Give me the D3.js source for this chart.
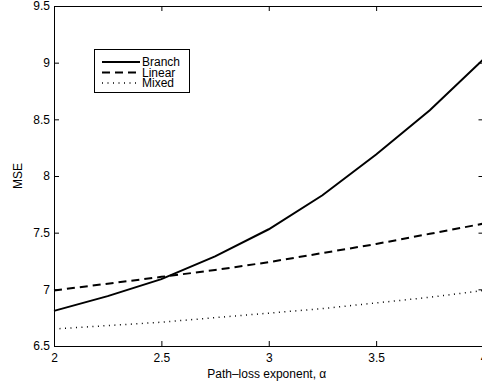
<!DOCTYPE html>
<html>
<head>
<meta charset="utf-8">
<script src="https://cdn.jsdelivr.net/npm/d3@7"></script>
<style>
  body { margin: 0; background: #fff; }
  svg { display: block; }
  text { font-family: "Liberation Sans", Arial, Helvetica, sans-serif; font-size: 12px; fill: #000; }
</style>
</head>
<body>
<svg id="vis" width="482" height="386"></svg>
<script>
// path-loss exponent values
const alpha = [2, 2.25, 2.5, 2.75, 3, 3.25, 3.5, 3.75, 4];
const branch = [6.81, 6.94, 7.09, 7.29, 7.53, 7.83, 8.19, 8.58, 9.03];
const linear = [6.99, 7.05, 7.11, 7.17, 7.24, 7.32, 7.40, 7.49, 7.58];
const mixed = [6.65, 6.68, 6.71, 6.75, 6.79, 6.83, 6.88, 6.93, 6.99];
const xTicks = [2, 2.5, 3, 3.5, 4];
const yTicks = [6.5, 7, 7.5, 8, 8.5, 9, 9.5];

const series = [
  { name: 'Branch', values: branch, dash: null, width: 2 },
  { name: 'Linear', values: linear, dash: '8,5', width: 2 },
  { name: 'Mixed', values: mixed, dash: '1,4.5', width: 1.5 }
];

const vis = d3.select('#vis');
const plotLeft = 54, plotRight = 483.5, plotTop = 6, plotBottom = 346;

const x = d3.scaleLinear().domain([2, 4]).range([plotLeft, plotRight]);
const y = d3.scaleLinear().domain([6.5, 9.5]).range([plotBottom, plotTop]);

// data lines
const line = d3.line()
  .x((d, i) => x(alpha[i]))
  .y(d => y(d));

vis.selectAll('path.series')
  .data(series)
  .enter()
    .append('path')
    .classed('series', true)
    .attr('d', d => line(d.values))
    .attr('fill', 'none')
    .attr('stroke', '#000')
    .attr('stroke-width', d => d.width)
    .attr('stroke-dasharray', d => d.dash);

// axes, ticks pointing inward (matlab style)
const tickLen = 5;
vis.append('g')
  .attr('transform', 'translate(0,' + plotBottom + ')')
  .call(d3.axisBottom(x).tickValues(xTicks).tickSize(-tickLen).tickPadding(7).tickFormat(d3.format('')));
vis.append('g')
  .attr('transform', 'translate(0,' + plotTop + ')')
  .call(d3.axisTop(x).tickValues(xTicks).tickSize(-tickLen).tickFormat(''));
vis.append('g')
  .attr('transform', 'translate(' + plotLeft + ',0)')
  .call(d3.axisLeft(y).tickValues(yTicks).tickSize(-tickLen).tickPadding(4).tickFormat(d3.format('')));
vis.append('g')
  .attr('transform', 'translate(' + plotRight + ',0)')
  .call(d3.axisRight(y).tickValues(yTicks).tickSize(-tickLen).tickFormat(''));

vis.selectAll('.domain').attr('stroke', '#000').attr('stroke-width', 1);
vis.selectAll('.tick line').attr('stroke', '#000');
vis.selectAll('.tick text').style('font-size', '12px').attr('fill', '#000');

// axis labels
vis.append('text')
  .attr('x', (plotLeft + plotRight) / 2 - 2)
  .attr('y', 378)
  .attr('text-anchor', 'middle')
  .text('Path\u2013loss exponent, \u03b1');

vis.append('text')
  .attr('transform', 'translate(22,' + ((plotTop + plotBottom) / 2) + ') rotate(-90)')
  .attr('text-anchor', 'middle')
  .text('MSE');

// legend
const legend = vis.append('g').attr('transform', 'translate(94,49)');
legend.append('rect')
  .attr('x', 0.5).attr('y', 0.5)
  .attr('width', 95).attr('height', 43)
  .attr('fill', '#fff')
  .attr('stroke', '#000')
  .attr('stroke-width', 1);

const rows = legend.selectAll('g.row')
  .data(series)
  .enter()
    .append('g')
    .classed('row', true)
    .attr('transform', (d, i) => 'translate(0,' + (13 + i * 10.5) + ')');

rows.append('line')
  .attr('x1', 8).attr('x2', 46)
  .attr('stroke', '#000')
  .attr('stroke-width', d => d.width)
  .attr('stroke-dasharray', d => d.dash);

rows.append('text')
  .attr('x', 48)
  .attr('dy', '0.35em')
  .style('font-size', '12px')
  .text(d => d.name);
</script>
</body>
</html>
